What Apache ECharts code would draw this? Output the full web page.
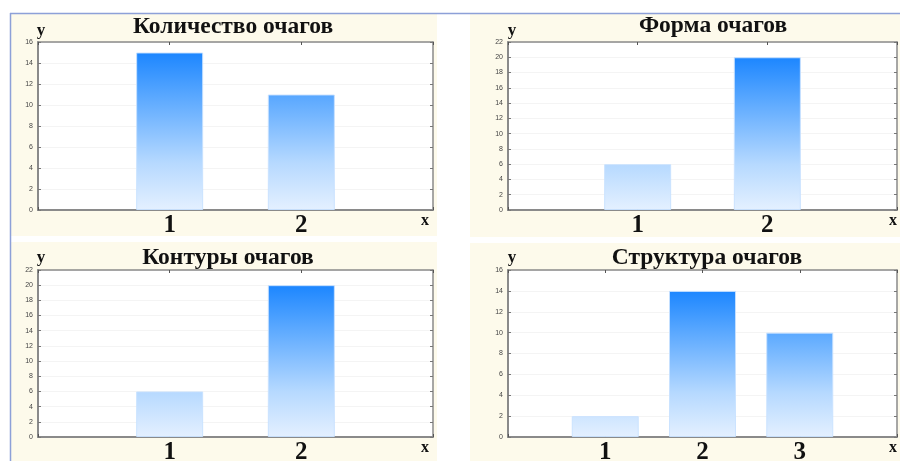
<!DOCTYPE html>
<html><head><meta charset="utf-8">
<script src="https://cdn.jsdelivr.net/npm/echarts@6/dist/echarts.min.js"></script>
<style>html,body{margin:0;padding:0;background:#fff}#c{width:902px;height:461px}</style>
</head><body><div id="c"></div>
<script>
// ---- data ----
const titles = ['Количество очагов', 'Форма очагов', 'Контуры очагов', 'Структура очагов'];
const cats1 = ['1', '2'];      const vals1 = [15, 11];
const cats2 = ['1', '2'];      const vals2 = [6, 20];
const cats3 = ['1', '2'];      const vals3 = [6, 20];
const cats4 = ['1', '2', '3']; const vals4 = [2, 14, 10];
const yMax = [16, 22, 22, 16];
const yStep = 2;
const xName = 'x', yName = 'y';

// ---- layout ----
const grids = [
  {left: 38, top: 42, width: 395, height: 168},
  {left: 508, top: 42, width: 389, height: 168},
  {left: 38, top: 270, width: 395, height: 167},
  {left: 508, top: 270, width: 389, height: 167}
];
const panels = [
  {x: 11, y: 14, w: 426, h: 222},
  {x: 470, y: 14, w: 430, h: 223},
  {x: 11, y: 242, w: 426, h: 219},
  {x: 470, y: 243, w: 430, h: 218}
];
const titlePos = [[233, 27], [713, 26], [228, 258], [707, 258]];
const yPos = [[41, 31], [512, 31], [41, 258], [512, 258]];
const xPos = [[425, 221], [893, 221], [425, 448], [893, 448]];

const scale = [[0, [228, 240, 255]], [0.3, [182, 217, 255]], [0.72, [90, 168, 255]], [1, [28, 134, 255]]];
function colAt(t) {
  for (let i = 1; i < scale.length; i++) {
    if (t <= scale[i][0]) {
      const a = scale[i - 1], b = scale[i];
      const f = (t - a[0]) / (b[0] - a[0]);
      const c = a[1].map((v, k) => Math.round(v + (b[1][k] - v) * f));
      return 'rgb(' + c.join(',') + ')';
    }
  }
  return 'rgb(' + scale[scale.length - 1][1].join(',') + ')';
}
function grad(v, m) {
  const tTop = v / m;
  const stops = [{offset: 0, color: colAt(tTop)}];
  for (let i = scale.length - 1; i >= 0; i--) {
    const s = scale[i][0];
    if (s < tTop) stops.push({offset: 1 - s / tTop, color: colAt(s)});
  }
  return new echarts.graphic.LinearGradient(0, 0, 0, 1, stops);
}

const allCats = [cats1, cats2, cats3, cats4];
const allVals = [vals1, vals2, vals3, vals4];
const gray = '#8a8a8a';

const option = {
  animation: false,
  backgroundColor: '#ffffff',
  grid: grids.map(g => Object.assign({show: true, backgroundColor: '#ffffff', borderWidth: 0, containLabel: false, outerBoundsMode: 'none'}, g)),
  xAxis: [], yAxis: [], series: [],
  graphic: []
};

const serif = '"Liberation Serif","Times New Roman",serif';

for (let p = 0; p < 4; p++) {
  const cats = allCats[p], vals = allVals[p];
  const n = cats.length;
  const m = Math.max(...vals);
  option.xAxis.push({
    type: 'value', gridIndex: p, min: 0, max: n + 1, interval: 1, position: 'bottom',
    axisLine: {show: true, onZero: false, lineStyle: {color: gray, width: 2}},
    axisTick: {show: true, inside: true, length: 3, lineStyle: {color: '#555'}},
    splitLine: {show: false},
    axisLabel: {
      margin: 3, fontFamily: serif, fontWeight: 'bold', fontSize: 25, color: '#111',
      formatter: v => (v >= 1 && v <= n) ? cats[v - 1] : ''
    }
  });
  option.xAxis.push({
    type: 'value', gridIndex: p, min: 0, max: n + 1, interval: 1, position: 'top',
    axisLine: {show: true, onZero: false, lineStyle: {color: gray, width: 1.5}},
    axisTick: {show: true, inside: true, length: 3, lineStyle: {color: '#555'}},
    splitLine: {show: false}, axisLabel: {show: false}
  });
  option.yAxis.push({
    type: 'value', gridIndex: p, min: 0, max: yMax[p], interval: yStep, position: 'left',
    axisLine: {show: true, onZero: false, lineStyle: {color: gray, width: 2}},
    axisTick: {show: true, inside: true, length: 3, lineStyle: {color: '#777'}},
    splitLine: {show: true, lineStyle: {color: '#f4f4f4', width: 1}},
    axisLabel: {margin: 5, fontSize: 7, color: '#444', fontFamily: '"Liberation Sans",Arial,sans-serif'}
  });
  option.yAxis.push({
    type: 'value', gridIndex: p, min: 0, max: yMax[p], interval: yStep, position: 'right',
    axisLine: {show: true, onZero: false, lineStyle: {color: gray, width: 1.5}},
    axisTick: {show: true, inside: true, length: 3, lineStyle: {color: '#777'}},
    splitLine: {show: false}, axisLabel: {show: false}
  });
  option.series.push({
    type: 'bar', xAxisIndex: 2 * p, yAxisIndex: 2 * p, barWidth: 67,
    z: 1,
    data: vals.map((v, i) => ({
      value: [i + 1, v],
      itemStyle: {color: grad(v, m), borderColor: 'rgba(200,225,255,0.9)', borderWidth: 1}
    }))
  });
  const pn = panels[p];
  option.graphic.push({type: 'rect', z: -10, silent: true,
    shape: {x: pn.x, y: pn.y, width: pn.w, height: pn.h}, style: {fill: '#fdfaeb'}});
  option.graphic.push({type: 'text', x: titlePos[p][0], y: titlePos[p][1], z: 10,
    style: {text: titles[p], font: 'bold 23.5px ' + serif, fill: '#111',
      align: 'center', verticalAlign: 'middle', textAlign: 'center', textVerticalAlign: 'middle'}});
  option.graphic.push({type: 'text', x: yPos[p][0], y: yPos[p][1], z: 10,
    style: {text: yName, font: 'bold 17px ' + serif, fill: '#111',
      align: 'center', verticalAlign: 'middle', textAlign: 'center', textVerticalAlign: 'middle'}});
  option.graphic.push({type: 'text', x: xPos[p][0], y: xPos[p][1], z: 10,
    style: {text: xName, font: 'bold 16px ' + serif, fill: '#111',
      align: 'center', verticalAlign: 'middle', textAlign: 'center', textVerticalAlign: 'middle'}});
}
option.graphic.push({type: 'line', z: 5, shape: {x1: 10, y1: 13.5, x2: 900, y2: 13.5}, style: {stroke: '#8da0d8', lineWidth: 1.5}});
option.graphic.push({type: 'line', z: 5, shape: {x1: 10.5, y1: 13, x2: 10.5, y2: 461}, style: {stroke: '#8da0d8', lineWidth: 1.5}});

const chart = echarts.init(document.getElementById('c'), null, {renderer: 'canvas'});
chart.setOption(option);
</script>
</body></html>
